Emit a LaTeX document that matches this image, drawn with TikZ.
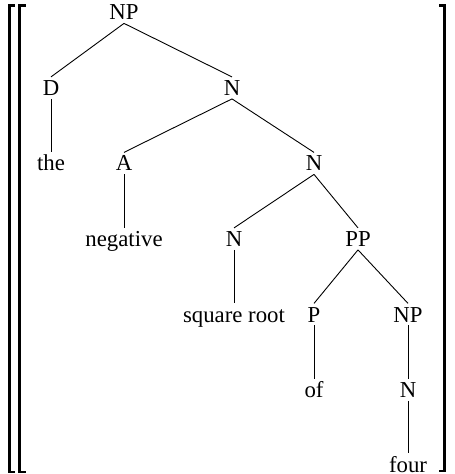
\documentclass[tikz,border=0pt]{standalone}
\usepackage{fontspec}
\setmainfont{Liberation Serif}
\begin{document}
\begin{tikzpicture}[x=0.5pt,y=-0.5pt,
  lbl/.style={anchor=base, inner xsep=1pt, inner ysep=1.5pt,
    text height=0.66em+1pt, text depth=0pt,
    font=\fontsize{11.4}{13}\selectfont},
  branch/.style={line width=0.45pt},
  brack/.style={line width=1.15pt, line cap=butt}]
\useasboundingbox (0,0) rectangle (454,474);

% tree nodes, placed on their baselines
\node[lbl] (np)   at (124,20)  {NP};
\node[lbl] (d)    at (51,95.5) {D};
\node[lbl] (n1)   at (232,95.5) {N};
\node[lbl] (the)  at (51,171)  {the};
\node[lbl] (a)    at (124,171) {A};
\node[lbl] (n2)   at (314,171) {N};
\node[lbl] (neg)  at (124,246.5) {negative};
\node[lbl] (n3)   at (234,246.5) {N};
\node[lbl] (pp)   at (358,246.5) {PP};
\node[lbl] (sqr)  at (234,322) {square root};
\node[lbl] (p)    at (314,322) {P};
\node[lbl] (np2)  at (408,322) {NP};
\node[lbl] (of)   at (314,397.5) {of};
\node[lbl] (n4)   at (408,397.5) {N};
\node[lbl] (four) at (408,472) {four};

% branches
\draw[branch] (np.south) -- (d.north);
\draw[branch] (np.south) -- (n1.north);
\draw[branch] (d.south) -- (the.north);
\draw[branch] (n1.south) -- (a.north);
\draw[branch] (n1.south) -- (n2.north);
\draw[branch] (a.south) -- (neg.north);
\draw[branch] (n2.south) -- (n3.north);
\draw[branch] (n2.south) -- (pp.north);
\draw[branch] (n3.south) -- (sqr.north);
\draw[branch] (pp.south) -- (p.north);
\draw[branch] (pp.south) -- (np2.north);
\draw[branch] (p.south) -- (of.north);
\draw[branch] (np2.south) -- (n4.north);
\draw[branch] (n4.south) -- (four.north);

% enclosing square brackets
\draw[brack] (14.5,5.5) -- (9.5,5.5) -- (9.5,472) -- (14.5,472);
\draw[brack] (25.5,5.5) -- (19.5,5.5) -- (19.5,472) -- (25.5,472);
\draw[brack] (439,5.5) -- (444.5,5.5) -- (444.5,471) -- (439,471);
\end{tikzpicture}
\end{document}
